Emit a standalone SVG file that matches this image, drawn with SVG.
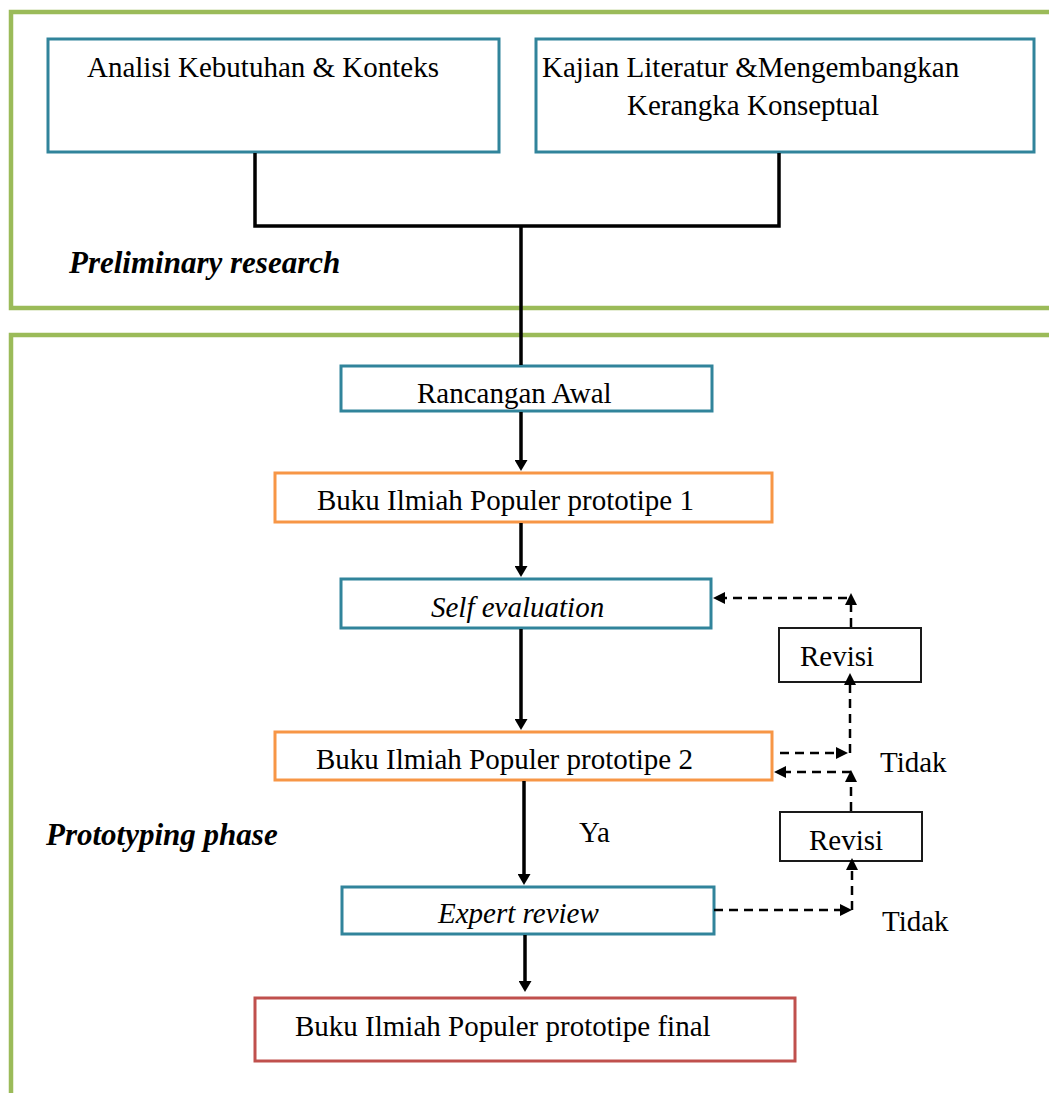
<svg xmlns="http://www.w3.org/2000/svg" width="1049" height="1093" viewBox="0 0 1049 1093">
<style>
.frame{fill:none;stroke:#9BBB59;stroke-width:4.5}
.teal{fill:#fff;stroke:#31849B;stroke-width:3}
.orange{fill:#fff;stroke:#F79646;stroke-width:3}
.red{fill:#fff;stroke:#C0504D;stroke-width:3}
.rev{fill:#fff;stroke:#1a1a1a;stroke-width:2}
.t{font-family:"Liberation Serif","Times New Roman",serif;font-size:29px;fill:#000}
.i{font-style:italic}
.bi{font-family:"Liberation Serif","Times New Roman",serif;font-size:31px;font-weight:bold;font-style:italic;fill:#000}
.solid{fill:none;stroke:#000;stroke-width:3.5}
.dash{fill:none;stroke:#000;stroke-width:2.5;stroke-dasharray:9 6}
</style>
<defs>
<marker id="ah" markerUnits="userSpaceOnUse" markerWidth="12" markerHeight="13" refX="0" refY="6.5" orient="auto">
<path d="M0,0 L11,6.5 L0,13 Z" fill="#000"/>
</marker>
<marker id="dh" markerUnits="userSpaceOnUse" markerWidth="13" markerHeight="12" refX="0" refY="6" orient="auto">
<path d="M0,0 L12,6 L0,12 Z" fill="#000"/>
</marker>
</defs>
<g id="frame-preliminary"><rect class="frame" x="11" y="12" width="1060" height="296"/><text class="bi" x="69" y="273">Preliminary research</text></g>
<g id="frame-prototyping"><rect class="frame" x="11" y="335" width="1060" height="800"/><text class="bi" x="46" y="845">Prototyping phase</text></g>
<g id="analisi"><rect class="teal" x="48" y="39" width="451" height="113"/><text class="t" x="87" y="77">Analisi Kebutuhan &amp; Konteks</text></g>
<g id="kajian"><rect class="teal" x="536" y="39" width="498" height="113"/><text class="t" x="542" y="77">Kajian Literatur &amp;Mengembangkan</text><text class="t" x="627" y="115">Kerangka Konseptual</text></g>
<g id="rancangan"><rect class="teal" x="341" y="366" width="371" height="45"/><text class="t" x="417" y="403">Rancangan Awal</text></g>
<g id="prototipe1"><rect class="orange" x="275" y="473" width="497" height="49"/><text class="t" x="317" y="510">Buku Ilmiah Populer prototipe 1</text></g>
<g id="self-evaluation"><rect class="teal" x="341" y="579" width="370" height="49"/><text class="t i" x="431" y="617">Self evaluation</text></g>
<g id="prototipe2"><rect class="orange" x="275" y="732" width="497" height="48"/><text class="t" x="316" y="769">Buku Ilmiah Populer prototipe 2</text></g>
<g id="expert-review"><rect class="teal" x="342" y="887" width="372" height="47"/><text class="t i" x="438" y="923">Expert review</text></g>
<g id="final"><rect class="red" x="255" y="998" width="540" height="63"/><text class="t" x="295" y="1036">Buku Ilmiah Populer prototipe final</text></g>
<g id="revisi1"><rect class="rev" x="779" y="628" width="142" height="54"/><text class="t" x="800" y="666">Revisi</text></g>
<g id="revisi2"><rect class="rev" x="780" y="812" width="142" height="49"/><text class="t" x="809" y="850">Revisi</text></g>
<g id="connectors">
<path class="solid" d="M255,153 V226 H779 V153 M521,226 V365"/>
<line class="solid" x1="521" y1="412" x2="521" y2="460" marker-end="url(#ah)"/>
<line class="solid" x1="521" y1="523" x2="521" y2="566" marker-end="url(#ah)"/>
<line class="solid" x1="521" y1="629" x2="521" y2="719" marker-end="url(#ah)"/>
<line class="solid" x1="524" y1="781" x2="524" y2="874" marker-end="url(#ah)"/>
<line class="solid" x1="525" y1="935" x2="525" y2="981" marker-end="url(#ah)"/>
<line class="dash" x1="851" y1="627" x2="851" y2="605" marker-end="url(#dh)"/>
<line class="dash" x1="847" y1="598" x2="725" y2="598" marker-end="url(#dh)"/>
<line class="dash" x1="780" y1="753" x2="836" y2="753" marker-end="url(#dh)"/>
<line class="dash" x1="850" y1="753" x2="850" y2="685" marker-end="url(#dh)"/>
<line class="dash" x1="851" y1="772" x2="786" y2="772" marker-end="url(#dh)"/>
<line class="dash" x1="851" y1="811" x2="851" y2="782" marker-end="url(#dh)"/>
<line class="dash" x1="714" y1="910" x2="840" y2="910" marker-end="url(#dh)"/>
<line class="dash" x1="852" y1="910" x2="852" y2="870" marker-end="url(#dh)"/>
<text class="t" x="579" y="842">Ya</text>
<text class="t" x="880" y="772">Tidak</text>
<text class="t" x="882" y="931">Tidak</text>
</g>
</svg>
